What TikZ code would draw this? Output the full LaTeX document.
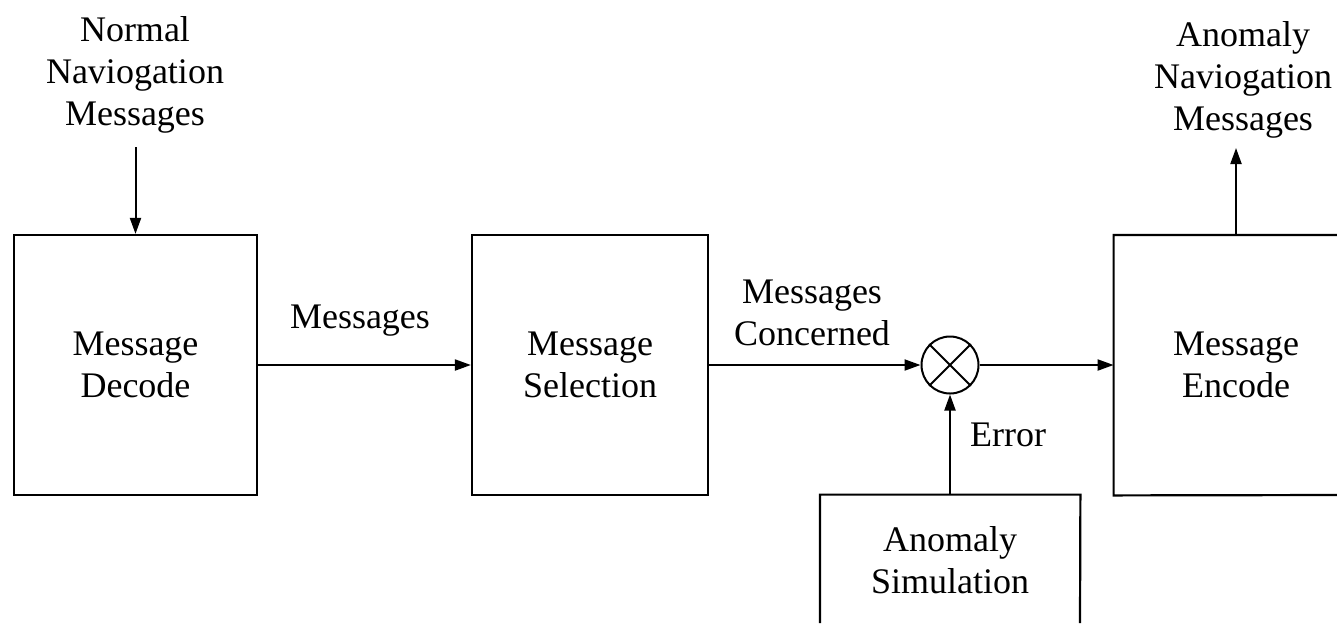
\documentclass[tikz,border=0pt]{standalone}
\usepackage{fontspec}
\setmainfont{Liberation Serif}
\usetikzlibrary{arrows.meta}

\tikzset{
  lbl/.style={font=\fontsize{18}{21}\selectfont, align=center, inner sep=0pt},
  blk/.style={draw, line width=1.1pt, lbl},
  arr/.style={line width=1pt, -{Triangle[length=8pt,width=5.5pt]}},
}

\begin{document}
\begin{tikzpicture}[x=0.5pt, y=-0.5pt]
  \useasboundingbox (0,0) rectangle (1337,623);

  % processing blocks
  \node[blk, minimum width=121.5pt, minimum height=130pt] (dec) at (135.5,365) {Message\\Decode};
  \node[blk, minimum width=118pt, minimum height=130pt] (sel) at (590,365) {Message\\Selection};
  \node[lbl, minimum width=122pt, minimum height=130pt] (enc) at (1236,365) {Message\\Encode};
  % the encode block runs on past the right margin
  \coordinate (encTR) at (1337,235);
  \coordinate (encBR) at (1337,495);
  \draw[line width=1.1pt] (encTR) -| (enc.south west) -- (encBR);
  % the simulation block runs on past the bottom margin
  \node[lbl, minimum width=130pt, minimum height=65pt] (sim) at (950,560) {Anomaly\\Simulation};
  \coordinate (simBL) at (820,623);
  \coordinate (simBR) at (1080,623);
  \draw[line width=1.1pt] (simBL) |- (sim.north east) -- (simBR);

  % multiplier
  \node[draw, circle, line width=1pt, minimum size=28.5pt, inner sep=0pt] (mix) at (950,365) {};
  \draw[line width=1pt] (mix.north west) -- (mix.south east)
                        (mix.north east) -- (mix.south west);

  % free ends of the input and output arrows
  \coordinate (in) at (135.5,147);
  \coordinate (out) at (1236,148);

  % labels
  \node[lbl] (tin) at (135,75) {Normal\\Naviogation\\Messages};
  \node[lbl] (tout) at (1243,80) {Anomaly\\Naviogation\\Messages};
  \node[lbl] (tm) at (360,321) {Messages};
  \node[lbl] (tmc) at (812,313) {Messages\\Concerned};
  \node[lbl] (terr) at (1008,435) {Error};

  % connectors
  \draw[arr] (in) -- (dec.north);
  \draw[arr] (dec.east) -- (sel.west);
  \draw[arr] (sel.east) -- (mix.west);
  \draw[arr] (mix.east) -- (enc.west);
  \draw[arr] (sim.north) -- (mix.south);
  \draw[arr] (enc.north) -- (out);
\end{tikzpicture}
\end{document}
